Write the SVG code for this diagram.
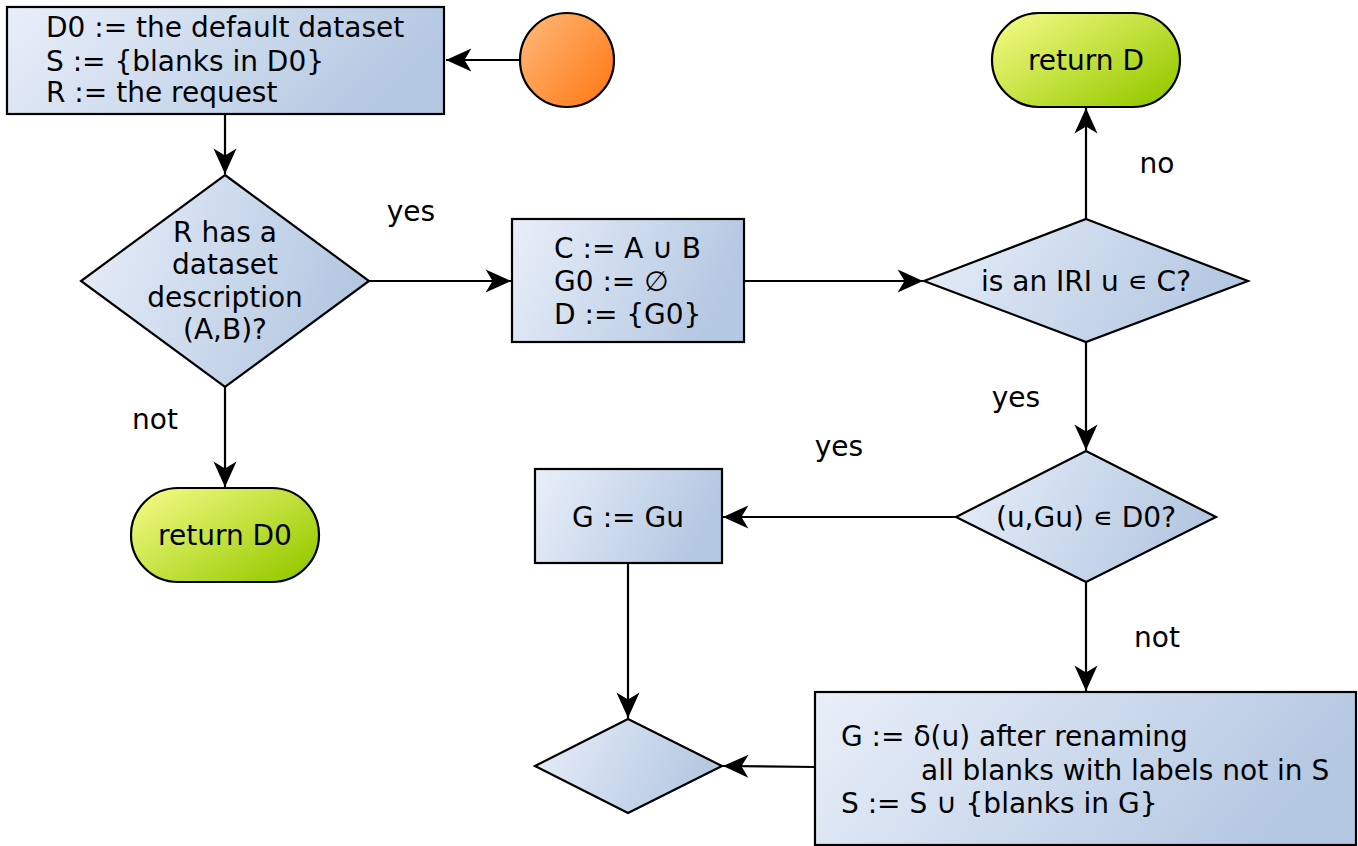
<svg xmlns="http://www.w3.org/2000/svg" width="1358" height="846" viewBox="0 0 1358 846">
<style>
text{font-family:"DejaVu Sans",sans-serif;font-size:28px;fill:#000}
.c{text-anchor:middle}
.box{fill:url(#gb);stroke:#000;stroke-width:2.2}
.pill{fill:url(#gg);stroke:#000;stroke-width:2.2}
.edge{fill:none;stroke:#000;stroke-width:2.2;marker-end:url(#ah)}
</style>
<defs>
<linearGradient id="gb" x1="0" y1="0" x2="1" y2="0.25"><stop offset="0" stop-color="#e9eff9"/><stop offset="1" stop-color="#b5c8e2"/></linearGradient>
<linearGradient id="gg" x1="0" y1="0" x2="1" y2="0.8"><stop offset="0" stop-color="#f8fd8c"/><stop offset="1" stop-color="#97ca00"/></linearGradient>
<linearGradient id="go" x1="0" y1="0" x2="1" y2="0.8"><stop offset="0" stop-color="#ffba7e"/><stop offset="1" stop-color="#ff7c18"/></linearGradient>
<marker id="ah" markerUnits="userSpaceOnUse" markerWidth="30" markerHeight="30" viewBox="-24 -12 26 24" refX="0" refY="0" orient="auto" overflow="visible">
<path d="M0,0 L-22,-10 L-16,0 L-22,10 z" fill="#000"/>
</marker>
</defs>
<g id="connectors">
<path class="edge" d="M520,60 H446"/>
<path class="edge" d="M225,114 V174"/>
<path class="edge" d="M369,281 H511"/>
<path class="edge" d="M744,281 H923"/>
<path class="edge" d="M1086,219 V108"/>
<path class="edge" d="M225,387 V487"/>
<path class="edge" d="M1086,342 V450"/>
<path class="edge" d="M956,517 H723"/>
<path class="edge" d="M628,563 V718"/>
<path class="edge" d="M1086,582 V691"/>
<path class="edge" d="M815,767 L723,766"/>
<text x="411" y="221" class="c">yes</text>
<text x="155" y="429" class="c">not</text>
<text x="1157" y="173" class="c">no</text>
<text x="1016" y="407" class="c">yes</text>
<text x="839" y="456" class="c">yes</text>
<text x="1157" y="647" class="c">not</text>
</g>
<g id="start"><circle cx="567" cy="60" r="47" fill="url(#go)" stroke="#000" stroke-width="2.2"/></g>
<g id="init">
<rect class="box" x="7" y="7" width="437" height="107"/>
<text x="46" y="37">D0 := the default dataset</text>
<text x="46" y="71">S := {blanks in D0}</text>
<text x="46" y="102">R := the request</text>
</g>
<g id="hasdesc">
<polygon class="box" points="225,175 369,281 225,387 81,281"/>
<text x="225" y="242" class="c">R has a</text>
<text x="225" y="274" class="c">dataset</text>
<text x="225" y="307" class="c">description</text>
<text x="225" y="339" class="c">(A,B)?</text>
</g>
<g id="returnD0">
<rect class="pill" x="131" y="488" width="188" height="94" rx="47"/>
<text x="225" y="545" class="c">return D0</text>
</g>
<g id="setC">
<rect class="box" x="512" y="219" width="232" height="123"/>
<text x="554" y="258">C := A ∪ B</text>
<text x="554" y="291">G0 := ∅</text>
<text x="554" y="324">D := {G0}</text>
</g>
<g id="isIRI">
<polygon class="box" points="1086,219 1248,281 1086,342 924,281"/>
<text x="1086" y="291" class="c">is an IRI u ∊ C?</text>
</g>
<g id="returnD">
<rect class="pill" x="992" y="13" width="188" height="94" rx="47"/>
<text x="1086" y="70" class="c">return D</text>
</g>
<g id="inD0">
<polygon class="box" points="1086,451 1216,517 1086,582 956,517"/>
<text x="1086" y="527" class="c">(u,Gu) ∊ D0?</text>
</g>
<g id="GGu">
<rect class="box" x="535" y="469" width="187" height="94"/>
<text x="628" y="527" class="c">G := Gu</text>
</g>
<g id="rename">
<rect class="box" x="815" y="692" width="541" height="153"/>
<text x="841" y="746">G := δ(u) after renaming</text>
<text x="921" y="780">all blanks with labels not in S</text>
<text x="841" y="813">S := S ∪ {blanks in G}</text>
</g>
<g id="merge">
<polygon class="box" points="628,719 722,766 628,813 535,766"/>
</g>
</svg>
